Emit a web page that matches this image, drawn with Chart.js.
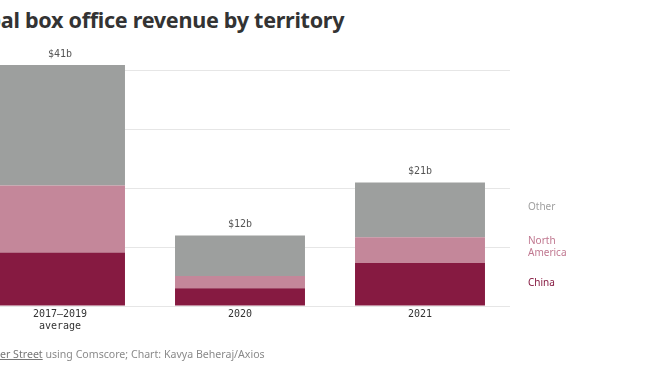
<!DOCTYPE html>
<html>
<head>
<meta charset="utf-8">
<script src="https://cdn.jsdelivr.net/npm/chart.js@4"></script>
<style>
  html, body { margin: 0; padding: 0; background: #fff; }
  body { width: 668px; height: 376px; position: relative; overflow: hidden; font-family: "Noto Sans", sans-serif; }
  #title { position: absolute; top: 5px; left: 0; white-space: nowrap; font-size: 21.6px; font-weight: 700; color: #333; letter-spacing: -0.3px; }
  #note { position: absolute; top: 347px; left: 0; white-space: nowrap; font-size: 10.6px; color: #8a8a8a; }
  #note u { color: #777; }
  #wrap { position: absolute; left: -30px; top: 0; width: 700px; height: 376px; }
</style>
</head>
<body>
<div id="title">Global box office revenue by territory</div>
<div id="wrap"><canvas id="chart"></canvas></div>
<div id="note">Data: <u>Gower Street</u> using Comscore; Chart: Kavya Beheraj/Axios</div>
<script>
const categories = [["2017–2019", "average"], "2020", "2021"];
const china = [9.1, 3.0, 7.3];
const northAmerica = [11.4, 2.1, 4.4];
const other = [20.5, 6.9, 9.3];
const totalLabels = ["$41b", "$12b", "$21b"];
const seriesNames = ["China", ["North", "America"], "Other"];
const seriesColors = ["#861a41", "#c4879a", "#9d9f9e"];
const legendColors = ["#861a41", "#c07890", "#a0a0a0"];

// crop the left of the title and note like the reference
(function () {
  const m = document.createElement("canvas").getContext("2d");
  m.font = "700 21.6px 'Noto Sans'";
  document.getElementById("title").style.left = -(m.measureText("Glob").width - 2) + "px";
  m.font = "10.6px 'Noto Sans'";
  document.getElementById("note").style.left = -m.measureText("Data: Gow").width + "px";
})();

const monoFont = "'DejaVu Sans Mono', monospace";

const labelsPlugin = {
  id: "labels",
  afterDatasetsDraw(chart) {
    const { ctx, scales: { x, y }, chartArea } = chart;
    ctx.save();
    // totals above each bar
    ctx.font = "10px " + monoFont;
    ctx.fillStyle = "#555";
    ctx.textAlign = "center";
    ctx.textBaseline = "middle";
    categories.forEach((c, i) => {
      const total = china[i] + northAmerica[i] + other[i];
      ctx.fillText(totalLabels[i], x.getPixelForValue(i), y.getPixelForValue(total) - 11);
    });
    // series names beside the last bar
    const last = categories.length - 1;
    const stacks = [china, northAmerica, other];
    const nudge = [-1, -3, -3];
    let base = 0;
    ctx.font = "10px 'Noto Sans'";
    ctx.textAlign = "left";
    stacks.forEach((s, k) => {
      const mid = y.getPixelForValue(base + s[last] / 2);
      base += s[last];
      const lines = Array.isArray(seriesNames[k]) ? seriesNames[k] : [seriesNames[k]];
      ctx.fillStyle = legendColors[k];
      lines.forEach((t, j) => {
        ctx.fillText(t, chartArea.right + 18, mid + (j - (lines.length - 1) / 2) * 12 + nudge[k]);
      });
    });
    ctx.restore();
  }
};

new Chart(document.getElementById("chart"), {
  type: "bar",
  data: {
    labels: categories,
    datasets: [
      { label: "China", data: china, backgroundColor: seriesColors[0] },
      { label: "North America", data: northAmerica, backgroundColor: seriesColors[1] },
      { label: "Other", data: other, backgroundColor: seriesColors[2] }
    ]
  },
  options: {
    responsive: true,
    maintainAspectRatio: false,
    animation: false,
    layout: { padding: { top: 12, right: 160, bottom: 42, left: 0 } },
    datasets: { bar: { categoryPercentage: 1, barPercentage: 0.722, borderWidth: 0 } },
    scales: {
      x: {
        stacked: true,
        grid: { display: false, drawTicks: false },
        border: { display: false },
        ticks: { color: "#333", font: { family: monoFont, size: 10 }, padding: 2, maxRotation: 0 }
      },
      y: {
        stacked: true,
        min: 0,
        max: 50,
        ticks: { stepSize: 10, display: false },
        border: { display: false },
        grid: {
          drawTicks: false,
          color: (c) => (c.tick && c.tick.value === 50 ? "rgba(0,0,0,0)" : "#e6e6e6")
        }
      }
    },
    plugins: { legend: { display: false }, tooltip: { enabled: false } }
  },
  plugins: [labelsPlugin]
});
</script>
</body>
</html>
